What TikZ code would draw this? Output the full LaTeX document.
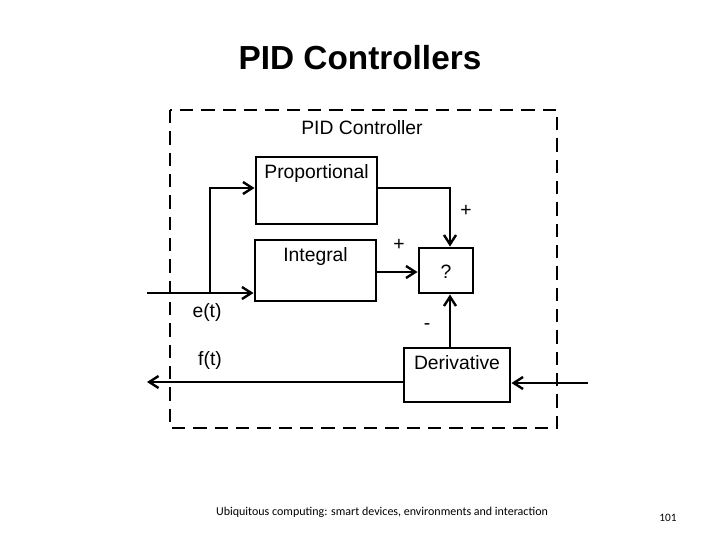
\documentclass[tikz,border=0pt]{standalone}
\usepackage{fontspec}
\setmainfont{Liberation Sans}
\newfontfamily\calib{Carlito}
\usetikzlibrary{arrows.meta}
\begin{document}
\begin{tikzpicture}[x=0.75pt,y=-0.75pt,
  blk/.style={draw,line width=2.2pt,inner sep=0pt},
  con/.style={line width=2.2pt,-{Straight Barb[length=7pt,width=9pt,line width=1.8pt]}},
  lbl/.style={font=\fontsize{14.5}{16}\selectfont}]
\useasboundingbox (0,0) rectangle (720,540);
\node (title) at (360,58) {\fontsize{25}{30}\selectfont\bfseries PID Controllers};
\draw[line width=2pt,dash pattern=on 10pt off 6pt] (170,110) rectangle (557,428);
\node[lbl] (pc) at (362,128) {PID Controller};
\node[blk,minimum width=121pt*0.75,minimum height=67pt*0.75] (P) at (316.5,190.5) {};
\node[lbl,anchor=north] (pt) at (P.north) [yshift=-3pt] {Proportional};
\node[blk,minimum width=121pt*0.75,minimum height=61pt*0.75] (I) at (315.5,270.5) {};
\node[lbl,anchor=north] (it) at (I.north) [yshift=-3pt] {Integral};
\node[blk,minimum width=54pt*0.75,minimum height=45pt*0.75] (Q) at (446,270.5) {};
\node[lbl] (qt) at (446,272) {?};
\node[blk,minimum width=106pt*0.75,minimum height=54pt*0.75] (D) at (457,375) {};
\node[lbl,anchor=north] (dt) at (D.north) [yshift=-3pt] {Derivative};
\coordinate (in) at (147,293);
\coordinate (br) at (210,293);
\coordinate (out) at (147,382);
\coordinate (din) at (588,383);
\draw[con] (in) -- (I.west |- in);
\draw[con] (br) -- (210,188) -- (P.west |- 0,188);
\draw[con] (P.east |- 0,188) -- (450,188) -- (Q.north -| 450,0);
\draw[con] (I.east |- 0,272) -- (Q.west |- 0,272);
\draw[con] (D.north -| 450,0) -- (Q.south -| 450,0);
\draw[con] (D.west |- out) -- (out);
\draw[con] (din) -- (D.east |- din);
\node[lbl] (p1) at (466,211) {+};
\node[lbl] (p2) at (399,245) {+};
\node[lbl] (m) at (427,327) {-};
\node[lbl] (e) at (207,312) {e(t)};
\node[lbl] (f) at (210,360) {f(t)};
\node (foot) at (382,512) {\calib\fontsize{9}{11}\selectfont Ubiquitous computing: smart devices, environments and interaction};
\node (num) at (668,518) {\calib\fontsize{8.5}{10}\selectfont 101};
\end{tikzpicture}
\end{document}
